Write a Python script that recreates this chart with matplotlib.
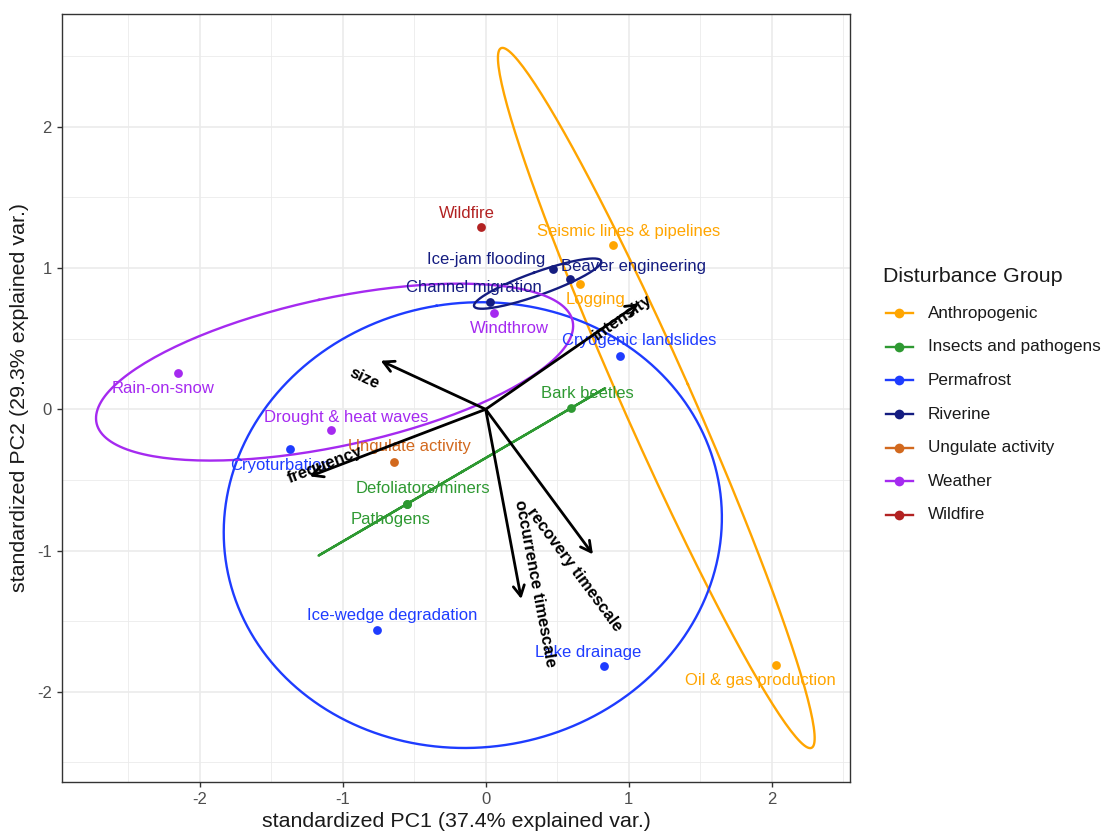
import numpy as np
import matplotlib
matplotlib.use("Agg")
import matplotlib.pyplot as plt
from matplotlib.lines import Line2D

plt.rcParams['font.family'] = ['Liberation Sans', 'DejaVu Sans']

# ---------------- data ----------------
names = ["Wildfire", "Seismic lines & pipelines", "Ice-jam flooding", "Beaver engineering",
         "Channel migration", "Logging", "Windthrow", "Cryogenic landslides", "Bark beetles",
         "Rain-on-snow", "Drought & heat waves", "Cryoturbation", "Ungulate activity",
         "Defoliators/miners", "Pathogens", "Ice-wedge degradation", "Lake drainage",
         "Oil & gas production"]
groups = ["Wildfire", "Anthropogenic", "Riverine", "Riverine",
          "Riverine", "Anthropogenic", "Weather", "Permafrost", "Insects and pathogens",
          "Weather", "Weather", "Permafrost", "Ungulate activity",
          "Insects and pathogens", "Insects and pathogens", "Permafrost", "Permafrost",
          "Anthropogenic"]
pc1 = [-0.03, 0.89, 0.47, 0.59, 0.03, 0.66, 0.06, 0.94, 0.60,
       -2.15, -1.08, -1.37, -0.64, -0.55, -0.55, -0.76, 0.83, 2.03]
pc2 = [1.29, 1.16, 0.99, 0.92, 0.76, 0.89, 0.68, 0.38, 0.01,
       0.26, -0.15, -0.28, -0.37, -0.67, -0.67, -1.56, -1.82, -1.81]

var_names = ["size", "frequency", "intensity", "occurrence timescale", "recovery timescale"]
var_x = [-0.734, -1.23, 1.07, 0.249, 0.75]
var_y = [0.344, -0.475, 0.75, -1.343, -1.027]

group_order = ["Anthropogenic", "Insects and pathogens", "Permafrost", "Riverine",
               "Ungulate activity", "Weather", "Wildfire"]
group_colors = {"Anthropogenic": "#FFA500", "Insects and pathogens": "#2E9932",
                "Permafrost": "#1E3CFF", "Riverine": "#141C80",
                "Ungulate activity": "#D2691E", "Weather": "#A52AF0",
                "Wildfire": "#B22222"}

xlab = "standardized PC1 (37.4% explained var.)"
ylab = "standardized PC2 (29.3% explained var.)"
legend_title = "Disturbance Group"

# label placement (offsets in pixels from the point)
label_offsets = [(-15, 14), (16, 14), (-67, 10), (63, 13),
                 (-16, 14), (15, -16), (15, -15), (19, 15), (16, 14),
                 (-15, -16), (15, 13), (-9, -17), (15, 15),
                 (16, 15), (-16, -16), (15, 14), (-16, 14),
                 (-16, -16)]
# arrow label centres (data coords)
var_label_xy = [(-0.85, 0.215), (-1.125, -0.392), (0.955, 0.65), (0.344, -1.232), (0.623, -1.138)]

# ---------------- figure ----------------
W, H = 1101, 835
fig = plt.figure(figsize=(W / 100, H / 100), dpi=100)
L, R, T, B = 62, 850, 14.3, 781.7
ax = fig.add_axes([L / W, 1 - B / H, (R - L) / W, (B - T) / H])
ax.set_xlim(-2.963, 2.548)
ax.set_ylim(-2.637, 2.797)

# grid
for v in np.arange(-2.5, 3.0, 0.5):
    major = float(v).is_integer()
    ax.axvline(v, color="#EBEBEB", lw=1.2 if major else 0.6, zorder=0)
    ax.axhline(v, color="#EBEBEB", lw=1.2 if major else 0.6, zorder=0)

for s in ax.spines.values():
    s.set_color("#333333")
    s.set_linewidth(1.0)

ax.set_xticks([-2, -1, 0, 1, 2])
ax.set_yticks([-2, -1, 0, 1, 2])
ax.set_xticklabels(["-2", "-1", "0", "1", "2"])
ax.set_yticklabels(["-2", "-1", "0", "1", "2"])
ax.tick_params(axis="both", colors="#333333", labelcolor="#4D4D4D", labelsize=12,
               length=3.8, width=1.0, pad=3.5)
ax.set_xlabel(xlab, fontsize=15.4, color="#1A1A1A", labelpad=4)
ax.set_ylabel(ylab, fontsize=15.4, color="#1A1A1A", labelpad=6)

# ellipses (68% normal probability)
ed = np.sqrt(-2 * np.log(1 - 0.68))
theta = np.linspace(-np.pi, np.pi, 200)
circle = np.column_stack([np.cos(theta), np.sin(theta)])
px = np.array(pc1)
py = np.array(pc2)
garr = np.array(groups)
for g in group_order:
    m = garr == g
    if m.sum() <= 2:
        continue
    pts = np.column_stack([px[m], py[m]])
    mu = pts.mean(axis=0)
    cov = np.cov(pts.T)
    w, V = np.linalg.eigh(cov)
    w = np.clip(w, 0, None)
    ell = mu + ed * circle @ (V * np.sqrt(w)).T
    ax.plot(ell[:, 0], ell[:, 1], color=group_colors[g], lw=1.7, zorder=2)

# points
for g in group_order:
    m = garr == g
    ax.scatter(px[m], py[m], s=40, color=group_colors[g], zorder=4, linewidths=0)

# point labels
for n, g, x, y, off in zip(names, groups, pc1, pc2, label_offsets):
    ax.annotate(n, (x, y), xytext=off, textcoords="offset pixels", ha="center", va="center",
                fontsize=12, color=group_colors[g], zorder=5)

# arrows
for vx, vy in zip(var_x, var_y):
    ax.annotate("", xy=(vx, vy), xytext=(0, 0),
                arrowprops=dict(arrowstyle="->,head_length=0.75,head_width=0.4",
                                mutation_scale=10, color="black", lw=2.0,
                                shrinkA=0, shrinkB=0), zorder=6)

fig.canvas.draw()
for n, vx, vy, (lx, ly) in zip(var_names, var_x, var_y, var_label_xy):
    p0 = ax.transData.transform((0, 0))
    p1 = ax.transData.transform((vx, vy))
    ang = np.degrees(np.arctan((p1[1] - p0[1]) / (p1[0] - p0[0])))
    ax.text(lx, ly, n, rotation=ang, rotation_mode="anchor", ha="center", va="center",
            fontsize=12, fontweight="bold", color="black", zorder=7)

# legend (manual, figure pixel coords)
def fx(x):
    return x / W

def fy(y):
    return 1 - y / H

fig.text(fx(882.7), fy(276), legend_title, fontsize=15.4, color="#1A1A1A", ha="left", va="center")
for i, g in enumerate(group_order):
    yy = 313.3 + i * 33.6
    fig.add_artist(Line2D([fx(886), fx(913.3)], [fy(yy), fy(yy)], color=group_colors[g], lw=1.7,
                          transform=fig.transFigure))
    fig.add_artist(Line2D([fx(899.3)], [fy(yy)], marker="o", markersize=7, color=group_colors[g],
                          markeredgewidth=0, transform=fig.transFigure))
    fig.text(fx(927.7), fy(yy), g, fontsize=12.3, color="#1A1A1A", ha="left", va="center")

fig.savefig("out.png", dpi=100)
